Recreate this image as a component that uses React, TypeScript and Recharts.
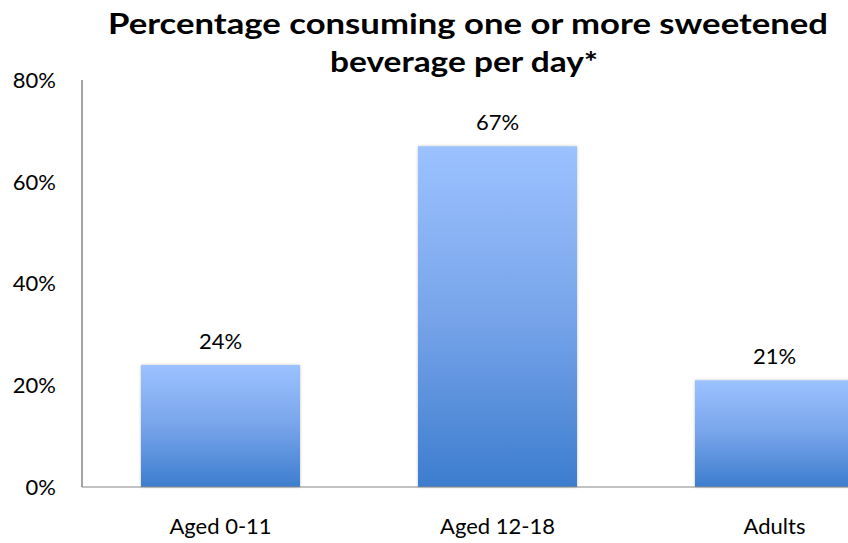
import { BarChart, Bar, XAxis, YAxis, LabelList } from 'recharts';

const categories = ['Aged 0-11', 'Aged 12-18', 'Adults'];
const shares = [0.24, 0.67, 0.21];
const yTicks = [0, 0.2, 0.4, 0.6, 0.8];
const titleLines = ['Percentage consuming one or more sweetened', 'beverage per day*'];

const chartData = categories.map((name, i) => ({ name, share: shares[i] }));

const pct = (v: number) => `${Math.round(v * 100)}%`;

const font = 'Lato, sans-serif';

export default function App() {
  return (
    <div
      style={{
        position: 'fixed',
        left: 0,
        top: 0,
        width: 848,
        height: 543,
        overflow: 'hidden',
        background: '#fff',
        fontFamily: font,
      }}
    >
      {/* title is stretched in the original, so force the widths */}
      <svg width={848} height={90} style={{ position: 'absolute', left: 0, top: 0 }}>
        <text x={108} y={34} fontSize={29} fontWeight={700} fontFamily={font} textLength={720} lengthAdjust="spacingAndGlyphs">
          {titleLines[0]}
        </text>
        <text x={330} y={72} fontSize={29} fontWeight={700} fontFamily={font} textLength={268} lengthAdjust="spacingAndGlyphs">
          {titleLines[1]}
        </text>
      </svg>

      <BarChart
        width={913}
        height={543}
        data={chartData}
        margin={{ top: 80, right: 0, left: 0, bottom: 0 }}
        barCategoryGap={0}
        style={{ position: 'absolute', left: 0, top: 0 }}
      >
        <defs>
          <linearGradient id="barFill" x1="0" y1="0" x2="0" y2="1">
            <stop offset="0%" stopColor="#9cc2ff" />
            <stop offset="50%" stopColor="#77a4ea" />
            <stop offset="100%" stopColor="#3d7dce" />
          </linearGradient>
          <filter id="barShadow" x="-10%" y="-10%" width="120%" height="120%">
            <feDropShadow dx="0" dy="0" stdDeviation="1.5" floodColor="#000" floodOpacity={0.25} />
          </filter>
        </defs>

        <XAxis
          dataKey="name"
          height={56}
          axisLine={{ stroke: '#868686', strokeWidth: 1 }}
          tickLine={false}
          tickSize={0}
          tickMargin={31}
          tick={{ fill: '#000', fontSize: 22, fontFamily: font }}
        />
        <YAxis
          width={82}
          domain={[0, 0.8]}
          ticks={yTicks}
          tickFormatter={pct}
          axisLine={{ stroke: '#868686', strokeWidth: 1.5 }}
          tickLine={false}
          tickSize={0}
          tickMargin={26}
          tick={{ fill: '#000', fontSize: 22, fontFamily: font }}
        />
        <Bar
          dataKey="share"
          barSize={159}
          fill="url(#barFill)"
          filter="url(#barShadow)"
          isAnimationActive={false}
        >
          <LabelList
            dataKey="share"
            position="top"
            offset={16}
            formatter={(v: any) => pct(Number(v))}
            style={{ fill: '#000', fontSize: 22, fontFamily: font }}
          />
        </Bar>
      </BarChart>
    </div>
  );
}
